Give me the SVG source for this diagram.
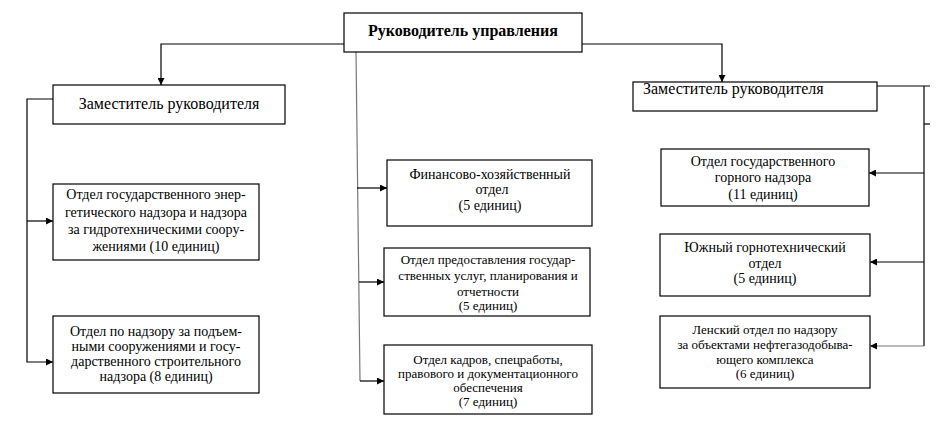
<svg xmlns="http://www.w3.org/2000/svg" width="944" height="435" viewBox="0 0 944 435">
<style>
.box{fill:#fff;stroke:#000;stroke-width:1.2}
.t{font-family:'Liberation Serif','Times New Roman',serif;font-size:14px;fill:#000;text-anchor:middle}
.s{font-size:13px}
.z{font-size:16px}
.b{font-weight:bold;font-size:16px}
.ln{fill:none;stroke:#000;stroke-width:1.2}
.g{stroke:#777}
</style>
<defs>
<marker id="ah" viewBox="0 0 10 10" refX="10" refY="5" markerWidth="8" markerHeight="7" markerUnits="userSpaceOnUse" orient="auto">
<path d="M0,0 L10,5 L0,10 Z" fill="#000"/>
</marker>
</defs>
<rect width="944" height="435" fill="#fff"/>
<g id="connectors">
<polyline class="ln" points="344,44 161,44 161,85" marker-end="url(#ah)"/>
<polyline class="ln" points="582,44 722,44 722,82" marker-end="url(#ah)"/>
<polyline class="ln" points="53,99 27,99 27,362 53,362" marker-end="url(#ah)"/>
<line class="ln" x1="27" y1="221" x2="53" y2="221" marker-end="url(#ah)"/>
<line class="ln g" x1="356" y1="52" x2="360" y2="381"/>
<line class="ln" x1="357" y1="188" x2="387" y2="188" marker-end="url(#ah)"/>
<line class="ln" x1="359" y1="282" x2="384" y2="282" marker-end="url(#ah)"/>
<line class="ln" x1="360" y1="381" x2="384" y2="381" marker-end="url(#ah)"/>
<polyline class="ln" points="877,86 930,86"/>
<line class="ln" x1="924" y1="86" x2="924" y2="346"/>
<line class="ln" x1="924" y1="124" x2="930" y2="124"/>
<line class="ln" x1="924" y1="173" x2="869" y2="173" marker-end="url(#ah)"/>
<line class="ln" x1="924" y1="262" x2="870" y2="262" marker-end="url(#ah)"/>
<line class="ln g" x1="924" y1="346" x2="870" y2="346" marker-end="url(#ah)"/>
</g>
<g id="head">
<rect class="box" x="344" y="13" width="238" height="39"/>
<text class="t b" x="463" y="35.5">Руководитель управления</text>
</g>
<g id="zam-left">
<rect class="box" x="53" y="85" width="232" height="39"/>
<text class="t z" x="169" y="109">Заместитель руководителя</text>
</g>
<g id="zam-right">
<rect class="box" x="633" y="82" width="244" height="29"/>
<text class="t z" x="643" y="94" style="text-anchor:start">Заместитель руководителя</text>
</g>
<g id="energy">
<rect class="box" x="53" y="184" width="206" height="76"/>
<text class="t" x="156" y="199">Отдел государственного энер-</text>
<text class="t" x="156" y="217">гетического  надзора и надзора</text>
<text class="t" x="156" y="234">за гидротехническими соору-</text>
<text class="t" x="156" y="251">жениями (10 единиц)</text>
</g>
<g id="lifting">
<rect class="box" x="53" y="316" width="206" height="77"/>
<text class="t" x="156" y="336">Отдел по надзору за подъем-</text>
<text class="t" x="156" y="351">ными сооружениями и госу-</text>
<text class="t" x="156" y="366">дарственного строительного</text>
<text class="t" x="156" y="381">надзора (8 единиц)</text>
</g>
<g id="finance">
<rect class="box" x="387" y="160" width="205" height="66"/>
<text class="t" x="490" y="179">Финансово-хозяйственный</text>
<text class="t" x="492" y="194">отдел</text>
<text class="t" x="490" y="210">(5 единиц)</text>
</g>
<g id="services">
<rect class="box" x="384" y="248" width="206" height="68"/>
<text class="t s" x="488" y="264">Отдел предоставления государ-</text>
<text class="t s" x="488" y="280">ственных услуг, планирования и</text>
<text class="t s" x="488" y="296">отчетности</text>
<text class="t s" x="488" y="310">(5 единиц)</text>
</g>
<g id="hr">
<rect class="box" x="384" y="345" width="208" height="69"/>
<text class="t s" x="488" y="364">Отдел кадров, спецработы,</text>
<text class="t s" x="488" y="378">правового и документационного</text>
<text class="t s" x="488" y="392">обеспечения</text>
<text class="t s" x="488" y="406">(7 единиц)</text>
</g>
<g id="mining">
<rect class="box" x="661" y="149" width="208" height="57"/>
<text class="t" x="763" y="166">Отдел государственного</text>
<text class="t" x="763" y="182">горного надзора</text>
<text class="t" x="763" y="199">(11 единиц)</text>
</g>
<g id="south">
<rect class="box" x="660" y="234" width="210" height="62"/>
<text class="t" x="765" y="252">Южный горнотехнический</text>
<text class="t" x="765" y="268">отдел</text>
<text class="t" x="765" y="283">(5 единиц)</text>
</g>
<g id="lena">
<rect class="box" x="660" y="316" width="210" height="72"/>
<text class="t s" x="765" y="334">Ленский отдел по надзору</text>
<text class="t s" x="765" y="349">за объектами нефтегазодобыва-</text>
<text class="t s" x="765" y="364">ющего комплекса</text>
<text class="t s" x="765" y="378">(6 единиц)</text>
</g>
</svg>
